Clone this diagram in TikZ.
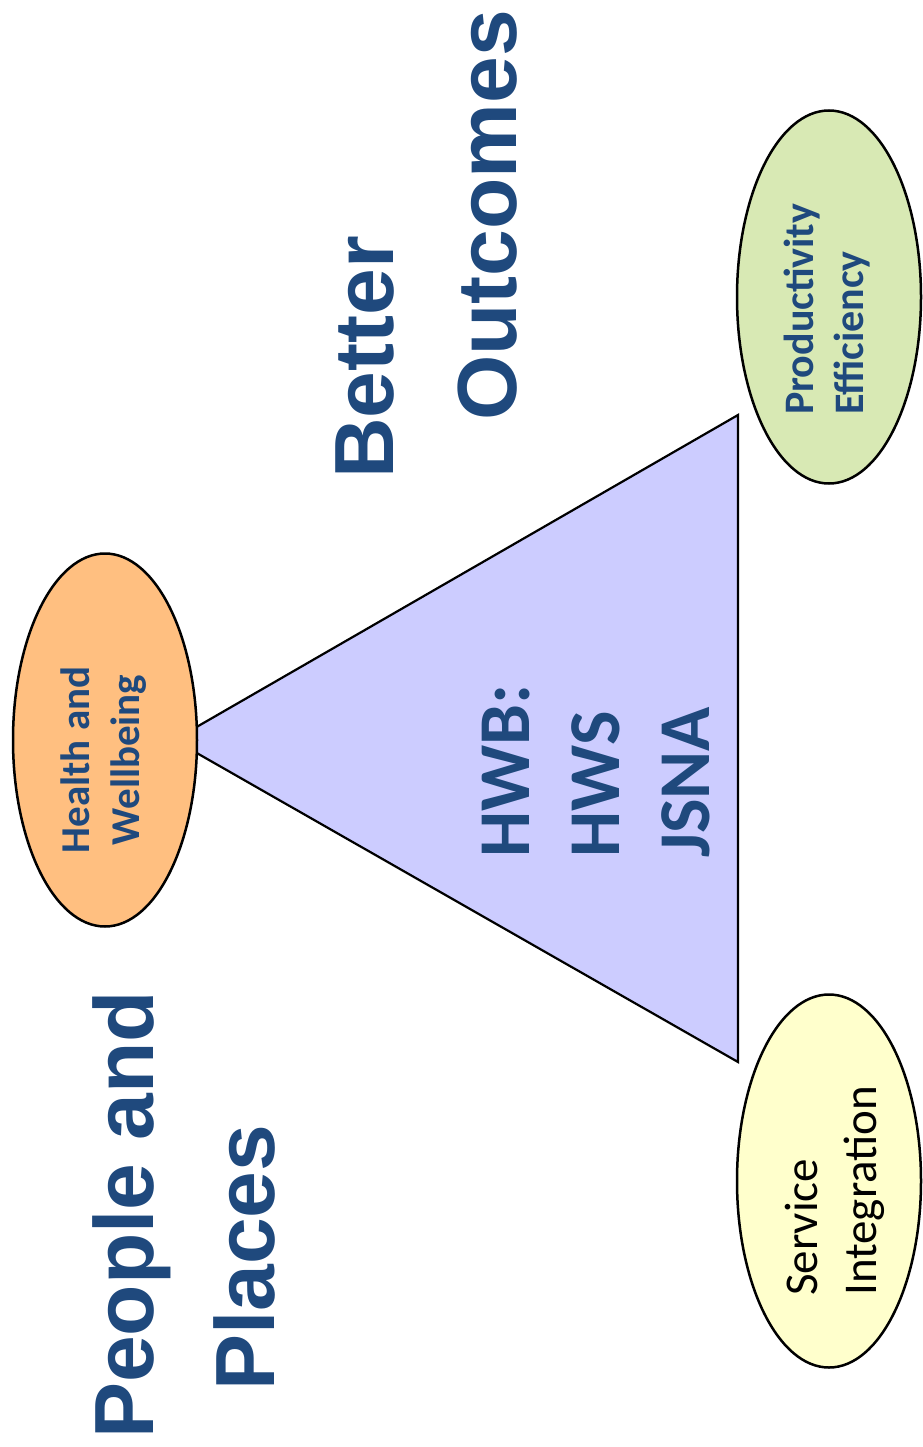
\documentclass[tikz,border=0pt]{standalone}
\usepackage{fontspec}
\setmainfont{Carlito}
\newfontfamily\arialfont{Liberation Sans}
\usetikzlibrary{shapes.geometric}
\definecolor{txtblue}{HTML}{1F497D}
\definecolor{hwbfill}{HTML}{CCCCFF}
\definecolor{healthfill}{HTML}{FFBF80}
\definecolor{prodfill}{HTML}{D8E9B4}
\definecolor{servfill}{HTML}{FFFFCC}
\tikzset{
  bubble/.style={ellipse, draw, line width=2.5pt, minimum width=184pt, minimum height=373pt, inner sep=0pt},
  bigtxt/.style={rotate=90, anchor=north west, inner sep=0pt, text=txtblue,
    font=\arialfont\bfseries\fontsize{84}{100}\selectfont},
  bubbletxt/.style={rotate=90, inner sep=0pt, align=left}
}
\begin{document}
\begin{tikzpicture}[x=1pt, y=-1pt]
    \useasboundingbox (0,0) rectangle (922,1447);
    \coordinate (apex) at (174,740);
    \coordinate (topcorner) at (738,415);
    \coordinate (botcorner) at (738,1062);
    \draw[line width=2.2pt, fill=hwbfill] (apex) -- (topcorner) -- (botcorner) -- cycle;
    \node[bubble, fill=healthfill] (health) at (105,740) {};
    \node[bubble, fill=prodfill] (prod) at (829,297) {};
    \node[bubble, fill=servfill] (serv) at (829,1181) {};
    \node[bubbletxt, anchor=center, align=center, text=txtblue,
      font=\bfseries\fontsize{41}{50}\selectfont] (healthtxt) at (104,760) {Health and\\Wellbeing};
    \node[bubbletxt, anchor=north west, text=txtblue,
      font=\bfseries\fontsize{42}{50}\selectfont] (prodtxt) at (784,415) {Productivity\\Efficiency};
    \node[bubbletxt, anchor=north west,
      font=\fontsize{47}{59}\selectfont] (servtxt) at (785,1296) {Service\\Integration};
    \node[bubbletxt, anchor=north west, text=txtblue,
      font=\bfseries\fontsize{73}{90}\selectfont] (hwbtxt) at (482,858) {HWB:\\HWS\\JSNA};
    \node[bigtxt] (better) at (336,479) {Better};
    \node[bigtxt] (outcomes) at (458,421) {Outcomes};
    \node[bigtxt] (people) at (92,1439) {People and};
    \node[bigtxt] (places) at (213,1391) {Places};
\end{tikzpicture}
\end{document}
